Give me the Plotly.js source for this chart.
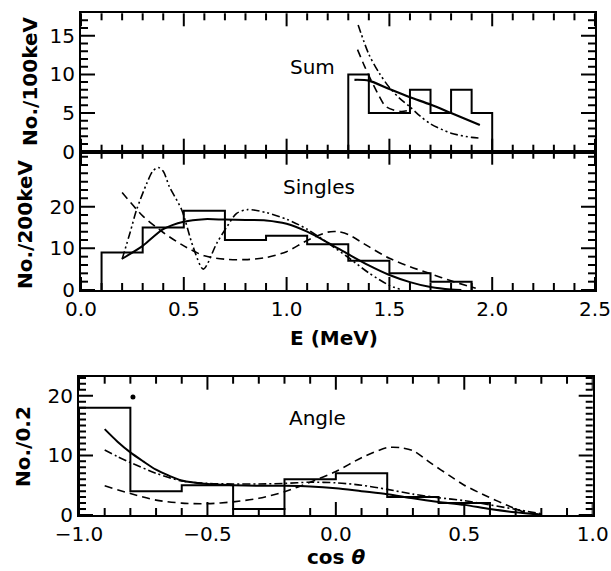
<!DOCTYPE html>
<html>
<head>
<meta charset="utf-8">
<script src="https://cdn.plot.ly/plotly-3.0.1.min.js"></script>
<style>html,body{margin:0;padding:0;background:#fff}#chart{width:611px;height:571px}</style>
</head>
<body>
<div id="chart"></div>
<script>
// ---- Sum panel ----
var sumEdges = [1.3, 1.4, 1.5, 1.6, 1.7, 1.8, 1.9, 2.0];
var sumCounts = [10, 5, 5, 8, 5, 8, 5];
var sumSolidE = [1.33, 1.40, 1.5, 1.6, 1.7, 1.8, 1.94];
var sumSolid = [9.3, 9.2, 8.1, 7.05, 6.1, 5.0, 3.45];
var sumDashE = [1.345, 1.38, 1.41, 1.45, 1.48, 1.52, 1.56, 1.6];
var sumDash = [13.2, 11.0, 9.3, 7.2, 5.9, 5.4, 5.2, 5.4];
var sumDotE = [1.348, 1.4, 1.45, 1.5, 1.55, 1.6, 1.65, 1.7, 1.8, 1.9, 1.94];
var sumDot = [16.4, 12.6, 10.2, 8.3, 6.9, 5.8, 4.6, 3.6, 2.4, 1.85, 1.75];

// ---- Singles panel ----
var singEdges = [0.1, 0.3, 0.5, 0.7, 0.9, 1.1, 1.3, 1.5, 1.7, 1.9];
var singCounts = [9, 15, 19, 12, 13, 11, 7, 4, 2];
var singSolidE = [0.2, 0.3, 0.4, 0.5, 0.6, 0.7, 0.8, 0.9, 1.0, 1.1, 1.2, 1.3, 1.4, 1.5, 1.6, 1.7, 1.8, 1.85];
var singSolid = [7.5, 10.6, 14.6, 16.4, 17.0, 16.9, 16.8, 16.7, 15.9, 14.0, 11.4, 8.6, 5.9, 3.6, 1.9, 0.7, 0.1, 0.0];
var singDashE = [0.2, 0.3, 0.4, 0.5, 0.6, 0.7, 0.8, 0.9, 1.0, 1.1, 1.2, 1.25, 1.3, 1.4, 1.5, 1.6, 1.7, 1.8, 1.92];
var singDash = [23.4, 17.8, 13.8, 10.6, 8.2, 7.4, 7.3, 7.8, 9.2, 11.9, 13.9, 14.0, 13.3, 10.4, 7.6, 5.6, 3.9, 2.2, 0.4];
var singDotE = [0.2, 0.24, 0.27, 0.32, 0.35, 0.376, 0.40, 0.43, 0.49, 0.545, 0.595, 0.66, 0.71, 0.757, 0.81, 0.9, 1.0, 1.1, 1.2, 1.3, 1.4, 1.5, 1.55];
var singDot = [7.4, 14, 19.2, 25.6, 28.6, 29.4, 28.5, 24.8, 19.2, 10.4, 5.0, 11.2, 15.2, 18.4, 19.3, 18.6, 17.0, 14.6, 11.3, 7.8, 4.1, 1.1, 0.2];

// ---- Angle panel ----
var angEdges = [-1.0, -0.8, -0.6, -0.4, -0.2, 0.0, 0.2, 0.4, 0.6];
var angCounts = [18, 4, 5, 1, 6, 7, 3, 2];
var angOverflowC = [-0.79];
var angOverflow = [19.8];
var angSolidC = [-0.9, -0.85, -0.8, -0.75, -0.7, -0.65, -0.6, -0.5, -0.4, -0.3, -0.2, -0.1, 0.0, 0.1, 0.2, 0.3, 0.4, 0.5, 0.6, 0.7, 0.8];
var angSolid = [14.4, 12.3, 10.5, 9.0, 7.6, 6.6, 5.8, 5.2, 5.0, 4.9, 4.9, 4.8, 4.5, 4.0, 3.5, 2.8, 2.2, 1.7, 1.0, 0.45, 0.05];
var angDotC = [-0.9, -0.85, -0.8, -0.7, -0.6, -0.5, -0.4, -0.3, -0.2, -0.1, 0.0, 0.1, 0.2, 0.3, 0.4, 0.5, 0.6, 0.7, 0.8];
var angDot = [10.9, 9.8, 8.8, 7.0, 5.7, 5.3, 5.2, 5.2, 5.3, 5.5, 5.4, 5.0, 4.3, 3.5, 2.9, 2.4, 1.7, 0.95, 0.2];
var angDashC = [-0.9, -0.8, -0.7, -0.6, -0.5, -0.4, -0.3, -0.2, -0.1, 0.0, 0.1, 0.2, 0.25, 0.3, 0.37, 0.45, 0.5, 0.59, 0.68, 0.73, 0.79];
var angDash = [4.9, 3.6, 2.5, 2.0, 1.9, 2.2, 2.8, 3.9, 5.5, 7.3, 9.6, 11.3, 11.3, 10.8, 8.7, 6.4, 5.0, 3.1, 1.4, 0.55, 0.1];

// ---- tick labels ----
var eTickVals = [0, 0.5, 1.0, 1.5, 2.0, 2.5];
var cosTickVals = [-1.0, -0.5, 0.0, 0.5, 1.0];
var sumYTicks = [0, 5, 10, 15];
var singYTicks = [0, 10, 20];
var angYTicks = [0, 10, 20];

function stepXY(edges, counts) {
  var xs = [edges[0]], ys = [0];
  for (var i = 0; i < counts.length; i++) { xs.push(edges[i]); ys.push(counts[i]); }
  xs.push(edges[edges.length - 1]); ys.push(0);
  return {x: xs, y: ys};
}

var DASH = '8px,5px';
var DASHDOT2 = '8px,3px,2px,3px,2px,3px';
var DASHDOT = '8px,3px,2px,3px';

function hist(edges, counts, xa, ya) {
  var s = stepXY(edges, counts);
  return {x: s.x, y: s.y, xaxis: xa, yaxis: ya, mode: 'lines', line: {color: '#000', width: 2, shape: 'hv'}, hoverinfo: 'skip'};
}
function curve(x, y, xa, ya, dash, w) {
  return {x: x, y: y, xaxis: xa, yaxis: ya, mode: 'lines', line: {color: '#000', width: w || 1.6, dash: dash, shape: 'spline', smoothing: 0.8}, hoverinfo: 'skip'};
}

var traces = [
  hist(sumEdges, sumCounts, 'x', 'y'),
  curve(sumSolidE, sumSolid, 'x', 'y', 'solid', 2.2),
  curve(sumDashE, sumDash, 'x', 'y', DASH),
  curve(sumDotE, sumDot, 'x', 'y', DASHDOT2),
  hist(singEdges, singCounts, 'x2', 'y2'),
  curve(singSolidE, singSolid, 'x2', 'y2', 'solid', 2),
  curve(singDashE, singDash, 'x2', 'y2', DASH),
  curve(singDotE, singDot, 'x2', 'y2', DASHDOT2),
  hist(angEdges, angCounts, 'x3', 'y3'),
  curve(angSolidC, angSolid, 'x3', 'y3', 'solid', 2),
  curve(angDashC, angDash, 'x3', 'y3', DASH),
  curve(angDotC, angDot, 'x3', 'y3', DASHDOT),
  {x: angOverflowC, y: angOverflow, xaxis: 'x3', yaxis: 'y3', mode: 'markers', marker: {color: '#000', size: 5}, hoverinfo: 'skip'}
];

var FONT = 'DejaVu Sans, Liberation Sans, Arial, sans-serif';
function axis(domain, anchor, range, tickvals, labels, fmt) {
  return {domain: domain, anchor: anchor, range: range, tickmode: 'array', tickvals: tickvals,
    showticklabels: labels, tickformat: fmt || '', ticks: '',
    showline: true, linewidth: 2, linecolor: 'black', mirror: true, showgrid: false, zeroline: false,
    tickfont: {family: FONT, size: 20, color: 'black'}};
}

// inward tick marks on all four sides, placed through the axes' own scales
function seq(a, b, step) {
  var out = [], n = Math.round((b - a) / step);
  for (var i = 0; i <= n; i++) out.push(Math.round((a + i * step) * 1000) / 1000);
  return out;
}
function isMajor(v, major) { return Math.abs(v / major - Math.round(v / major)) < 1e-6; }
var shapes = [];
function xTicks(xa, ya, range, minor, major, hpx) {
  seq(range[0], range[1], minor).forEach(function (v) {
    var f = (isMajor(v, major) ? 13 : 7) / hpx;
    [[0, f], [1 - f, 1]].forEach(function (p) {
      shapes.push({type: 'line', xref: xa, yref: ya + ' domain', x0: v, x1: v, y0: p[0], y1: p[1], line: {color: '#000', width: 2}});
    });
  });
}
function yTicks(xa, ya, top, minor, majors, wpx) {
  seq(0, top, minor).forEach(function (v) {
    var f = (majors.indexOf(v) >= 0 ? 14 : 7) / wpx;
    [[0, f], [1 - f, 1]].forEach(function (p) {
      shapes.push({type: 'line', xref: xa + ' domain', yref: ya, x0: p[0], x1: p[1], y0: v, y1: v, line: {color: '#000', width: 2}});
    });
  });
}

var W = 611, H = 571;
function px(x) { return x / W; }
function py(y) { return (H - y) / H; }

xTicks('x', 'y', [0, 2.5], 0.1, 0.5, 138.4);
yTicks('x', 'y', 17, 1, sumYTicks, 514);
xTicks('x2', 'y2', [0, 2.5], 0.1, 0.5, 138.3);
yTicks('x2', 'y2', 32, 2, singYTicks, 514);
xTicks('x3', 'y3', [-1, 1], 0.1, 0.5, 138.3);
yTicks('x3', 'y3', 23, 1, angYTicks, 513.7);

function ann(text, x, y, size, angle, bold) {
  return {text: bold ? '<b>' + text + '</b>' : text, x: x, y: y, xref: 'paper', yref: 'paper',
    xanchor: 'center', yanchor: 'middle', showarrow: false, textangle: angle || 0,
    font: {family: FONT, size: size, color: '#000'}};
}

var layout = {
  width: W, height: H, margin: {l: 0, r: 0, t: 0, b: 0},
  paper_bgcolor: '#fff', plot_bgcolor: '#fff', showlegend: false,
  xaxis: axis([px(81), px(595)], 'y', [0, 2.5], eTickVals, false, '.1f'),
  yaxis: axis([py(151.7), py(13.3)], 'x', [0, 17.9], sumYTicks, true),
  xaxis2: axis([px(81), px(595)], 'y2', [0, 2.5], eTickVals, true, '.1f'),
  yaxis2: axis([py(290), py(151.7)], 'x2', [0, 33.2], singYTicks, true),
  xaxis3: axis([px(79), px(592.7)], 'y3', [-1, 1], cosTickVals, true, '.1f'),
  yaxis3: axis([py(515), py(376.7)], 'x3', [0, 23.2], angYTicks, true),
  shapes: shapes,
  annotations: [
    ann('Sum', px(312), py(67), 20),
    ann('Singles', px(319), py(187), 20),
    ann('Angle', px(317), py(418), 20),
    ann('No./100keV', px(30), py(82), 20, -90, true),
    ann('No./200keV', px(25), py(225), 20, -90, true),
    ann('No./0.2', px(23), py(447), 20, -90, true),
    ann('E (MeV)', px(334), py(338), 20, 0, true),
    ann('cos <i>θ</i>', px(336), py(557), 20, 0, true)
  ]
};

Plotly.newPlot('chart', traces, layout, {displayModeBar: false});
</script>
</body>
</html>
